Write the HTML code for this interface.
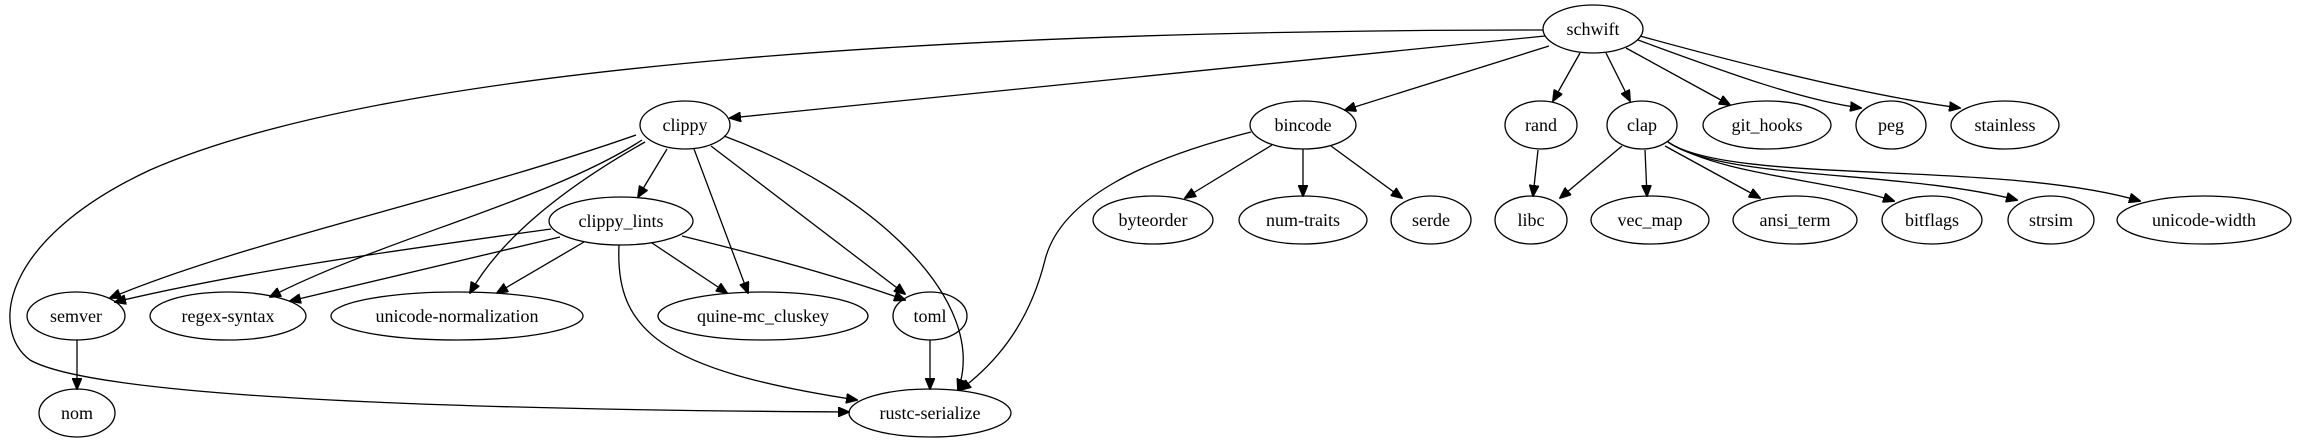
<!DOCTYPE html>
<html><head><meta charset="utf-8"><style>
html,body{margin:0;padding:0;background:#fff;}
svg{display:block;}
text{font-family:"Liberation Serif",serif;font-size:18px;text-anchor:middle;fill:#000;}
ellipse{fill:none;stroke:#000;stroke-width:1.3;}
path{fill:none;stroke:#000;stroke-width:1.3;}
</style></head><body>
<svg width="2297" height="443" viewBox="0 0 2297 443" xmlns="http://www.w3.org/2000/svg">
<defs><marker id="a" markerWidth="12" markerHeight="10" refX="11" refY="5" orient="auto" markerUnits="userSpaceOnUse"><path d="M0,0 L12,5 L0,10 Z" style="fill:#000;stroke:#000;stroke-width:1"/></marker></defs>
<g marker-end="url(#a)">
<path d="M1543,30 C1000,30 400,60 150,170 C0,240 -10,330 30,360 C100,400 500,410 849,412"/>
<path d="M1545,36 L730,118"/>
<path d="M1549,46 L1345,110"/>
<path d="M1580,53 L1553,101"/>
<path d="M1606,53 L1630,101"/>
<path d="M1626,48 L1730,105"/>
<path d="M1638,40 C1720,70 1800,100 1861,108"/>
<path d="M1640,36 C1800,80 1900,100 1960,108"/>
<path d="M667,149 L638,197"/>
<path d="M636,135 C450,200 250,240 110,298"/>
<path d="M642,140 C550,200 380,240 270,297"/>
<path d="M645,142 C560,190 500,240 470,293"/>
<path d="M694,149 L748,293"/>
<path d="M711,146 L905,294"/>
<path d="M724,136 C870,190 990,300 958,390"/>
<path d="M551,229 C400,250 250,270 115,302"/>
<path d="M560,237 L290,301"/>
<path d="M584,242 L497,293"/>
<path d="M652,243 L727,293"/>
<path d="M682,236 C780,260 850,280 905,300"/>
<path d="M619,245 C615,330 660,370 857,400"/>
<path d="M930,340 L930,389"/>
<path d="M77,340 L77,389"/>
<path d="M1251,132 C1140,160 1060,200 1045,260 C1030,320 1000,360 960,390"/>
<path d="M1272,145 L1185,198"/>
<path d="M1303,149 L1303,196"/>
<path d="M1331,146 L1402,198"/>
<path d="M1538,150 L1533,196"/>
<path d="M1622,146 L1560,198"/>
<path d="M1645,150 L1647,196"/>
<path d="M1665,146 L1760,198"/>
<path d="M1668,142 C1720,175 1830,180 1894,201"/>
<path d="M1668,142 C1720,180 1900,170 2017,200"/>
<path d="M1668,142 C1730,185 2000,160 2140,201"/>
</g>
<ellipse cx="1593" cy="29" rx="50" ry="24"/><text x="1593" y="35">schwift</text>
<ellipse cx="685" cy="125" rx="45" ry="24"/><text x="685" y="131">clippy</text>
<ellipse cx="1303" cy="125" rx="53" ry="24"/><text x="1303" y="131">bincode</text>
<ellipse cx="1541" cy="125" rx="36" ry="24"/><text x="1541" y="131">rand</text>
<ellipse cx="1642" cy="125" rx="35" ry="24"/><text x="1642" y="131">clap</text>
<ellipse cx="1767" cy="125" rx="64" ry="24"/><text x="1767" y="131">git_hooks</text>
<ellipse cx="1891" cy="125" rx="35" ry="24"/><text x="1891" y="131">peg</text>
<ellipse cx="2005" cy="125" rx="54" ry="24"/><text x="2005" y="131">stainless</text>
<ellipse cx="621" cy="221" rx="72" ry="24"/><text x="621" y="227">clippy_lints</text>
<ellipse cx="1153" cy="220" rx="60" ry="24"/><text x="1153" y="226">byteorder</text>
<ellipse cx="1303" cy="220" rx="64" ry="24"/><text x="1303" y="226">num-traits</text>
<ellipse cx="1431" cy="220" rx="40" ry="24"/><text x="1431" y="226">serde</text>
<ellipse cx="1531" cy="220" rx="36" ry="24"/><text x="1531" y="226">libc</text>
<ellipse cx="1650" cy="220" rx="59" ry="24"/><text x="1650" y="226">vec_map</text>
<ellipse cx="1795" cy="220" rx="62" ry="24"/><text x="1795" y="226">ansi_term</text>
<ellipse cx="1932" cy="220" rx="50" ry="24"/><text x="1932" y="226">bitflags</text>
<ellipse cx="2051" cy="220" rx="43" ry="24"/><text x="2051" y="226">strsim</text>
<ellipse cx="2204" cy="220" rx="87" ry="24"/><text x="2204" y="226">unicode-width</text>
<ellipse cx="76" cy="316" rx="49" ry="24"/><text x="76" y="322">semver</text>
<ellipse cx="228" cy="316" rx="78" ry="24"/><text x="228" y="322">regex-syntax</text>
<ellipse cx="457" cy="316" rx="126" ry="24"/><text x="457" y="322">unicode-normalization</text>
<ellipse cx="763" cy="316" rx="105" ry="24"/><text x="763" y="322">quine-mc_cluskey</text>
<ellipse cx="930" cy="316" rx="37" ry="24"/><text x="930" y="322">toml</text>
<ellipse cx="77" cy="413" rx="38" ry="24"/><text x="77" y="419">nom</text>
<ellipse cx="930" cy="413" rx="81" ry="24"/><text x="930" y="419">rustc-serialize</text>
</svg>
</body></html>
